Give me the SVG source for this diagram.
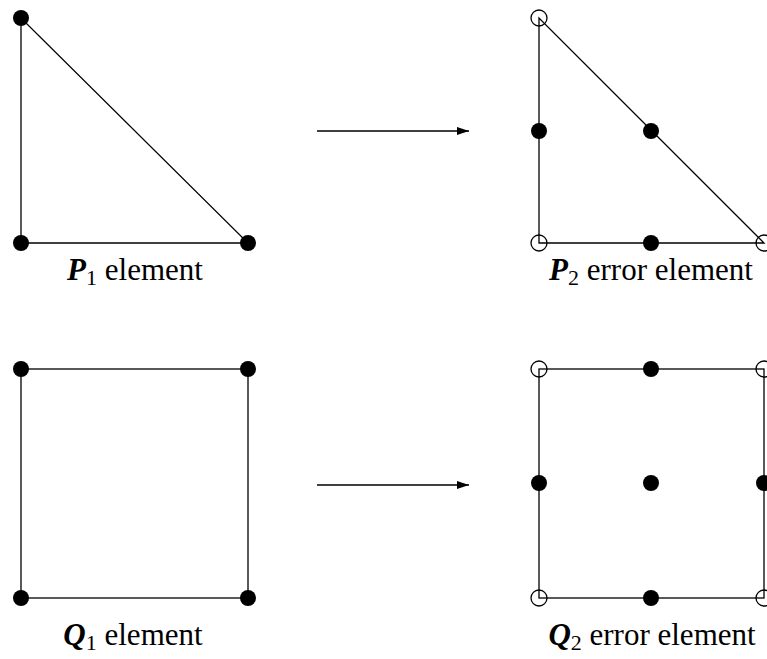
<svg xmlns="http://www.w3.org/2000/svg" width="767" height="659" viewBox="0 0 767 659">
<defs>
<style>
.edge{stroke:#000;stroke-width:1.3;fill:none}
.fd{fill:#000}
.od{fill:none;stroke:#000;stroke-width:1.3}
</style>
<marker id="ah" markerWidth="12" markerHeight="8" refX="12" refY="4" orient="auto" markerUnits="userSpaceOnUse">
<path d="M0,0 L12,4 L0,8 z" fill="#000"/>
</marker>
</defs>
<g id="connectors">
<line class="edge" x1="317" y1="131" x2="469" y2="131" marker-end="url(#ah)"/>
<line class="edge" x1="317" y1="485" x2="469" y2="485" marker-end="url(#ah)"/>
</g>
<g id="p1">
<path class="edge" d="M21,18 L21,243 L248,243 Z"/>
<circle class="fd" cx="21" cy="18" r="8"/>
<circle class="fd" cx="21" cy="243" r="8"/>
<circle class="fd" cx="248" cy="243" r="8"/>
<text x="135" y="280" text-anchor="middle" font-family="'Liberation Serif', 'Times New Roman', serif" font-size="31" fill="#000"><tspan font-weight="bold" font-style="italic">P</tspan><tspan font-size="22" dy="5">1</tspan><tspan dy="-5"> element</tspan></text>
</g>
<g id="p2">
<path class="edge" d="M539,18 L539,243 L764,243 Z"/>
<circle class="od" cx="539" cy="18" r="8"/>
<circle class="od" cx="539" cy="243" r="8"/>
<circle class="od" cx="764" cy="243" r="8"/>
<circle class="fd" cx="539" cy="131" r="8"/>
<circle class="fd" cx="651" cy="131" r="8"/>
<circle class="fd" cx="651" cy="243" r="8"/>
<text x="651" y="280" text-anchor="middle" font-family="'Liberation Serif', 'Times New Roman', serif" font-size="31" fill="#000"><tspan font-weight="bold" font-style="italic">P</tspan><tspan font-size="22" dy="5">2</tspan><tspan dy="-5"> error element</tspan></text>
</g>
<g id="q1">
<rect class="edge" x="21" y="369" width="227" height="229"/>
<circle class="fd" cx="21" cy="369" r="8"/>
<circle class="fd" cx="248" cy="369" r="8"/>
<circle class="fd" cx="21" cy="598" r="8"/>
<circle class="fd" cx="248" cy="598" r="8"/>
<text x="133" y="645" text-anchor="middle" font-family="'Liberation Serif', 'Times New Roman', serif" font-size="31" fill="#000"><tspan font-weight="bold" font-style="italic">Q</tspan><tspan font-size="22" dy="5">1</tspan><tspan dy="-5"> element</tspan></text>
</g>
<g id="q2">
<rect class="edge" x="539" y="369" width="225" height="229"/>
<circle class="od" cx="539" cy="369" r="8"/>
<circle class="od" cx="764" cy="369" r="8"/>
<circle class="od" cx="539" cy="598" r="8"/>
<circle class="od" cx="764" cy="598" r="8"/>
<circle class="fd" cx="651" cy="369" r="8"/>
<circle class="fd" cx="539" cy="483" r="8"/>
<circle class="fd" cx="651" cy="483" r="8"/>
<circle class="fd" cx="764" cy="483" r="8"/>
<circle class="fd" cx="651" cy="598" r="8"/>
<text x="652" y="645" text-anchor="middle" font-family="'Liberation Serif', 'Times New Roman', serif" font-size="31" fill="#000"><tspan font-weight="bold" font-style="italic">Q</tspan><tspan font-size="22" dy="5">2</tspan><tspan dy="-5"> error element</tspan></text>
</g>
</svg>
